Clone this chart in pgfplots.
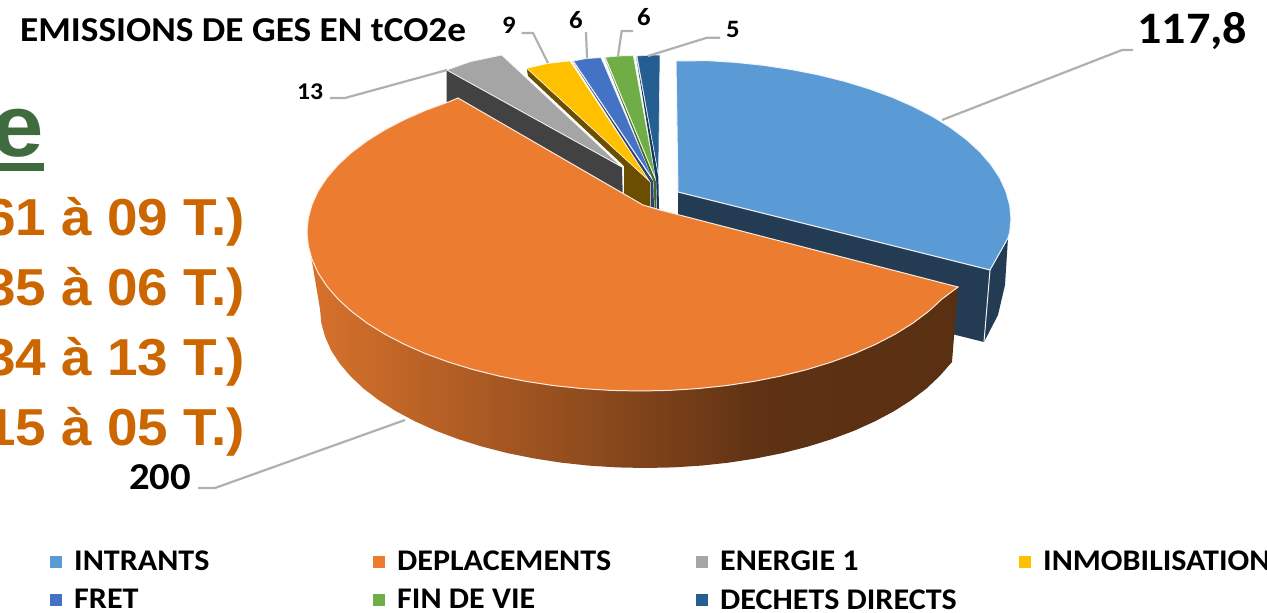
\documentclass[border=0pt]{standalone}
\usepackage{fontspec}
\setmainfont{Carlito}
\newfontfamily\arialf{Liberation Sans}
\usepackage{pgfplots}
\pgfplotsset{compat=1.18}
\definecolor{cA}{HTML}{5B9BD5}
\definecolor{cAw}{HTML}{233C54}
\definecolor{cB}{HTML}{EB7C30}
\definecolor{cC}{HTML}{A5A5A5}
\definecolor{cCw}{HTML}{424242}
\definecolor{cD}{HTML}{FFC000}
\definecolor{cDw}{HTML}{6B4E00}
\definecolor{cE}{HTML}{4472C4}
\definecolor{cEw}{HTML}{2A4476}
\definecolor{cF}{HTML}{70AD47}
\definecolor{cFw}{HTML}{43682B}
\definecolor{cG}{HTML}{255E91}
\definecolor{cGw}{HTML}{16385A}
\definecolor{lead}{HTML}{B0B0B0}
\definecolor{txtO}{HTML}{CC6600}
\definecolor{txtG}{HTML}{3F6B3F}
\pgfdeclarehorizontalshading{orangeside}{100bp}{
  color(0bp)=(cB!92!black);
  color(25bp)=(cB!92!black);
  color(32bp)=(cB!82!black);
  color(47bp)=(cB!60!black);
  color(60bp)=(cB!40!black);
  color(75bp)=(cB!38!black);
  color(100bp)=(cB!38!black)}
\newcommand{\fs}[1]{\fontsize{#1}{#1}\selectfont}
\newcommand{\wide}[1]{\scalebox{1.07}[1]{#1}}
\newcommand{\lgd}[2]{\hspace*{10pt}\makebox[#1][l]{\wide{#2}}}
\begin{document}
\begin{tikzpicture}[x=1pt,y=1pt]
\useasboundingbox (0,0) rectangle (1267pt,613pt);
\begin{axis}[
  at={(0,0)},anchor=south west,
  scale only axis,width=1267pt,height=613pt,
  xmin=0,xmax=1267,ymin=0,ymax=613,y dir=reverse,
  hide axis,clip=false,
  every axis plot/.append style={no markers},
  legend image code/.code={\path[#1,draw=none] (0pt,-6pt) rectangle (12pt,6pt);},
  legend columns=4,
  legend cell align=left,
  legend style={at={(axis cs:50,549)},anchor=north west,draw=none,fill=none,
    inner sep=0pt,font=\bfseries\fs{30},
    /tikz/column sep=0pt,/tikz/row sep=13pt},
]
\addlegendimage{fill=cA}\addlegendentry{\lgd{297pt}{INTRANTS}}
\addlegendimage{fill=cB}\addlegendentry{\lgd{297pt}{DEPLACEMENTS}}
\addlegendimage{fill=cC}\addlegendentry{\lgd{297pt}{ENERGIE 1}}
\addlegendimage{fill=cD}\addlegendentry{\lgd{220pt}{INMOBILISATION}}
\addlegendimage{fill=cE}\addlegendentry{\lgd{297pt}{FRET}}
\addlegendimage{fill=cF}\addlegendentry{\lgd{297pt}{FIN DE VIE}}
\addlegendimage{fill=cG}\addlegendentry{\lgd{297pt}{DECHETS DIRECTS}}

% INTRANTS
\addplot[forget plot,fill=cAw,draw=none] coordinates {(678,192)(990,270)(984,342)(920,326)(678,216)} -- cycle;
\addplot[forget plot,fill=cAw,draw=none] coordinates {(990,270)(1008,238)(1005,285)(998,315)(984,342)} -- cycle;
\addplot[forget plot,draw=white!85!lead,line width=1pt] coordinates {(990,270)(984,342)};
\addplot[forget plot,fill=cA,draw=white!90!cA,line width=1pt] coordinates {(676,61)(707,60.6)(735.8,62.4)(764.2,65.4)(791.9,69.6)(818.7,74.9)(844.5,81.3)(869,88.8)(892.1,97.2)(913.5,106.6)(933.1,116.8)(950.8,127.8)(966.4,139.5)(979.8,151.8)(990.9,164.6)(999.7,177.8)(1005.9,191.4)(1009.7,205.1)(1011,219)(1009.7,232)(1008,238)(990,270)(678,192)} -- cycle;
% ENERGIE 1
\addplot[forget plot,fill=cCw,draw=none] coordinates {(446.7,70)(622,167)(622.7,193)(446.7,102)} -- cycle;
\addplot[forget plot,fill=cC,draw=white!90!cC,line width=.8pt] coordinates {(446.7,70)(470,61.7)(501.7,55)(622,167)} -- cycle;
% INMOBILISATION
\addplot[forget plot,fill=cDw,draw=none] coordinates {(526.7,68.3)(650,181.7)(650.5,207)(643,205)(624,195)(624,166)(528,76)} -- cycle;
\addplot[forget plot,fill=cD,draw=white!90!cD,line width=.6pt] coordinates {(526.7,68.3)(548,63.5)(570,61)(650,181.7)} -- cycle;
% FRET
\addplot[forget plot,fill=cEw,draw=none] coordinates {(572.3,61)(653.3,181.7)(654,208)(651,207)(650.5,182)} -- cycle;
\addplot[forget plot,fill=cE,draw=white!90!cE,line width=.6pt] coordinates {(573.5,61)(587,58.5)(601,57.7)(653.3,180)} -- cycle;
% FIN DE VIE
\addplot[forget plot,fill=cFw,draw=none] coordinates {(604.3,57.3)(656,181.7)(656.5,208)(654.5,208)(653.7,182)} -- cycle;
\addplot[forget plot,fill=cF,draw=white!90!cF,line width=.6pt] coordinates {(605.3,57.3)(619,56)(633.3,55.7)(656,180)} -- cycle;
% DECHETS DIRECTS
\addplot[forget plot,fill=cGw,draw=none] coordinates {(636,56)(658.3,175)(659,209)(657,209)(656.3,182)} -- cycle;
\addplot[forget plot,fill=cG,draw=white!90!cG,line width=.6pt] coordinates {(637,56)(648,55.3)(660,55)(658.5,176)} -- cycle;
% DEPLACEMENTS
\addplot[forget plot,shading=orangeside,shading angle=0,draw=none] coordinates {(307,232)(958,287)(952,362)(939.5,376.2)(926.5,388.5)(911.2,400.2)(894,411.2)(874.8,421.4)(854,430.8)(831.6,439.2)(807.5,446.7)(782.5,453.1)(756.2,458.4)(729.2,462.6)(701.4,465.6)(673.3,467.4)(645,468)(616.7,467.4)(588.6,465.6)(560.8,462.6)(533.8,458.4)(507.5,453.1)(482.5,446.7)(458.4,439.2)(436,430.8)(415.2,421.4)(396,411.2)(378.8,400.2)(363.5,388.5)(350.5,376.2)(339.6,363.4)(331,350.2)(325,336.6)(321.3,322.9)(320,309)} -- cycle;
\addplot[forget plot,fill=cB,draw=white!85!cB,line width=1pt] coordinates {(458,98)(643,205)(660,210)(958,287)(941.8,299.2)(928.4,311.5)(912.8,323.2)(895.1,334.2)(875.5,344.4)(854.1,353.8)(831,362.2)(806.5,369.7)(780.7,376.1)(753.9,381.4)(726.2,385.6)(697.8,388.6)(669,390.4)(640,391)(611,390.4)(582.2,388.6)(553.8,385.6)(526.1,381.4)(499.3,376.1)(473.5,369.7)(449,362.2)(425.9,353.8)(404.5,344.4)(384.9,334.2)(367.2,323.2)(351.6,311.5)(338.2,299.2)(327.1,286.4)(318.3,273.2)(312.1,259.6)(308.3,245.9)(307,232)(308.3,218.1)(312.1,204.4)(318.3,190.8)(327.1,177.6)(338.2,164.8)(351.6,152.5)(367.2,140.8)(384.9,129.8)(404.5,119.6)(425.9,110.2)(449,101.8)} -- cycle;
% leader lines
\addplot[forget plot,lead,line width=2.2pt] coordinates {(942,120)(1122,50)(1133,50)};
\addplot[forget plot,lead,line width=2.2pt] coordinates {(330,98)(345,98)(447,70)};
\addplot[forget plot,lead,line width=2.2pt] coordinates {(521.7,33)(533,33)(548,63)};
\addplot[forget plot,lead,line width=2.2pt] coordinates {(586,32)(587,58)};
\addplot[forget plot,lead,line width=2.2pt] coordinates {(633,31)(621.7,31)(618,56)};
\addplot[forget plot,lead,line width=2.2pt] coordinates {(720,37.7)(707,37.7)(648,56)};
\addplot[forget plot,lead,line width=2.2pt] coordinates {(198,488)(215,488)(405,420)};
% underline of the heading
\addplot[forget plot,txtG,line width=8pt] coordinates {(0,167)(44,167)};
% texts
\node[anchor=west,inner sep=0pt,font=\bfseries\fs{35}] at (axis cs:20,30) {\scalebox{1.065}[1]{EMISSIONS DE GES EN tCO2e}};
\node[anchor=west,inner sep=0pt,font=\bfseries\fs{45}] at (axis cs:1137,31) {\wide{117,8}};
\node[anchor=west,inner sep=0pt,font=\bfseries\fs{38}] at (axis cs:129,477) {\wide{200}};
\node[anchor=west,inner sep=0pt,font=\bfseries\fs{24}] at (axis cs:297,92) {\wide{13}};
\node[anchor=center,inner sep=0pt,font=\bfseries\fs{25}] at (axis cs:509,25) {\wide{9}};
\node[anchor=center,inner sep=0pt,font=\bfseries\fs{25}] at (axis cs:576,20) {\wide{6}};
\node[anchor=center,inner sep=0pt,font=\bfseries\fs{25}] at (axis cs:644,17) {\wide{6}};
\node[anchor=center,inner sep=0pt,font=\bfseries\fs{25}] at (axis cs:733,29) {\wide{5}};
\node[anchor=base east,inner sep=0pt,text=txtG,font=\arialf\bfseries\fs{88}] at (axis cs:44,156) {\wide{e}};
\node[anchor=base east,inner sep=0pt,text=txtO,font=\arialf\bfseries\fs{52}] at (axis cs:245,235) {\scalebox{1.056}[1]{61 à 09 T.)}};
\node[anchor=base east,inner sep=0pt,text=txtO,font=\arialf\bfseries\fs{52}] at (axis cs:245,305) {\scalebox{1.056}[1]{35 à 06 T.)}};
\node[anchor=base east,inner sep=0pt,text=txtO,font=\arialf\bfseries\fs{52}] at (axis cs:245,375) {\scalebox{1.056}[1]{34 à 13 T.)}};
\node[anchor=base east,inner sep=0pt,text=txtO,font=\arialf\bfseries\fs{52}] at (axis cs:245,445) {\scalebox{1.056}[1]{15 à 05 T.)}};
\end{axis}
\end{tikzpicture}
\end{document}
